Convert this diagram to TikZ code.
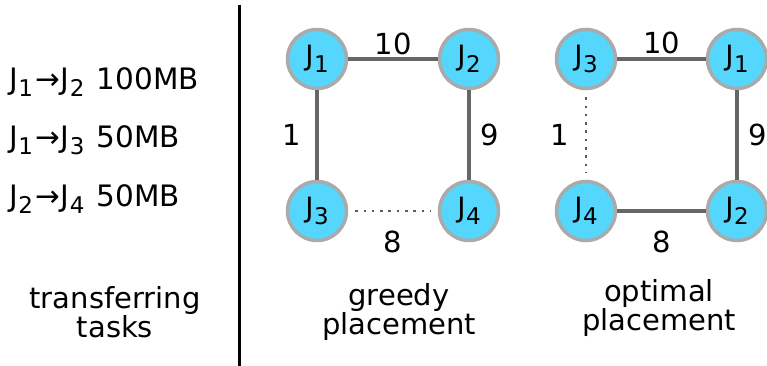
\documentclass[tikz,border=0pt]{standalone}
\usepackage{fontspec}
\setmainfont{DejaVu Sans}
\definecolor{jfill}{RGB}{84,214,253}
\definecolor{jborder}{RGB}{170,170,170}
\definecolor{edgegrey}{RGB}{102,102,102}
\definecolor{dotgrey}{RGB}{90,90,90}
\newcommand{\Jn}[1]{J\kern0.5pt\raisebox{-7pt}{\fontsize{23}{23}\selectfont #1}}
\tikzset{
  job/.style={circle, fill=jfill, draw=jborder, line width=3.5pt, minimum size=59pt, inner sep=0pt, font=\fontsize{28}{28}\selectfont},
  link/.style={draw=edgegrey, line width=3.2pt},
  dotlink/.style={draw=dotgrey, line width=2.8pt, dash pattern=on 2.6pt off 5.7pt, shorten >=7pt, shorten <=7pt},
  wlabel/.style={font=\fontsize{29}{29}\selectfont, inner sep=0pt},
  caption/.style={font=\fontsize{29}{28}\selectfont, align=center, inner sep=0pt},
  task/.style={font=\fontsize{29.5}{29.5}\selectfont, anchor=base west, inner sep=0pt}
}
\begin{document}
\begin{tikzpicture}[x=1pt,y=-1pt]
\useasboundingbox (0,0) rectangle (767,366);
% divider
\coordinate (divtop) at (239,5);
\coordinate (divbot) at (239,366);
\draw[line width=3pt] (divtop) -- (divbot);
% tasks
\node[task] (t1) at (9,90) {\Jn{1}\kern2pt→\kern1pt\Jn{2}\kern3pt\ 100MB};
\node[task] (t2) at (9,148) {\Jn{1}\kern2pt→\kern1pt\Jn{3}\kern3pt\ 50MB};
\node[task] (t3) at (9,206) {\Jn{2}\kern2pt→\kern1pt\Jn{4}\kern3pt\ 50MB};
\node[caption] (capt) at (115,312) {transferring\\tasks};
% greedy
\node[job] (g1) at (317,59) {\raisebox{3pt}{\Jn{1}}};
\node[job] (g2) at (469,59) {\raisebox{3pt}{\Jn{2}}};
\node[job] (g3) at (317,211) {\raisebox{3pt}{\Jn{3}}};
\node[job] (g4) at (469,211) {\raisebox{3pt}{\Jn{4}}};
\draw[link] (g1) -- node[wlabel, midway, yshift=15pt] (g12) {10} (g2);
\draw[link] (g1) -- node[wlabel, midway, xshift=-25pt] (g13) {1} (g3);
\draw[link] (g2) -- node[wlabel, midway, xshift=21pt] (g24) {9} (g4);
\draw[dotlink] (g3) -- node[wlabel, midway, yshift=-31pt] (g34) {8} (g4);
\node[caption] (capg) at (399,312) {greedy\\placement};
% optimal
\node[job] (o3) at (586,59) {\raisebox{3pt}{\Jn{3}}};
\node[job] (o1) at (737,59) {\raisebox{3pt}{\Jn{1}}};
\node[job] (o4) at (586,211) {\raisebox{3pt}{\Jn{4}}};
\node[job] (o2) at (737,211) {\raisebox{3pt}{\Jn{2}}};
\draw[link] (o3) -- node[wlabel, midway, yshift=16pt] (o31) {10} (o1);
\draw[dotlink] (o3) -- node[wlabel, midway, xshift=-26pt] (o34) {1} (o4);
\draw[link] (o1) -- node[wlabel, midway, xshift=21pt] (o12) {9} (o2);
\draw[link] (o4) -- node[wlabel, midway, yshift=-31pt] (o42) {8} (o2);
\node[caption] (capo) at (659,308) {optimal\\placement};
\end{tikzpicture}
\end{document}
